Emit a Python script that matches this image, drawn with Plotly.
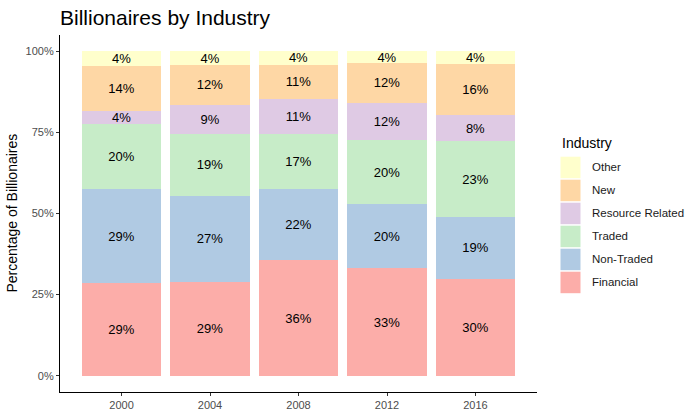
import plotly.graph_objects as go

years = [2000, 2004, 2008, 2012, 2016]
industries = ["Financial", "Non-Traded", "Traded", "Resource Related", "New", "Other"]
financial = [28.6, 28.9, 35.6, 33.1, 29.9]
non_traded = [28.8, 26.6, 21.9, 19.7, 19.1]
traded = [20.3, 19.1, 17.1, 19.7, 23.2]
resource_related = [3.8, 8.9, 10.7, 11.7, 8.2]
new = [14.1, 12.3, 10.6, 12.2, 15.8]
other = [4.4, 4.2, 4.1, 3.6, 3.8]
colors = ["#FCADA9", "#B0CAE3", "#C7ECC8", "#DFCAE4", "#FED7A5", "#FFFFCC"]
y_ticks = [0, 25, 50, 75, 100]
y_tick_labels = ["0%", "25%", "50%", "75%", "100%"]

series = [financial, non_traded, traded, resource_related, new, other]
FONT = "Liberation Sans, Arial, sans-serif"

W, H = 694, 420
L, R, T, B = 60, 157, 35, 28
pw, ph = W - L - R, H - T - B


def px(x):
    return (x - L) / pw


def py(y):
    return (H - B - y) / ph


fig = go.Figure()
for name, vals, col in zip(industries, series, colors):
    fig.add_trace(go.Bar(
        x=years, y=vals, name=name, width=3.6,
        marker=dict(color=col, line=dict(width=0)),
        text=[f"{round(v)}%" for v in vals],
        textposition="inside", insidetextanchor="middle", textangle=0,
        textfont=dict(family=FONT, size=13, color="black"),
        showlegend=False, hoverinfo="skip",
    ))

shapes = []
annotations = []
annotations.append(dict(text="Industry", x=px(560), y=py(143), xref="paper", yref="paper",
                        xanchor="left", yanchor="middle", showarrow=False,
                        font=dict(family=FONT, size=14, color="black")))
legend_order = list(reversed(list(zip(industries, colors))))
for i, (name, col) in enumerate(legend_order):
    top = 156.7 + 23 * i
    shapes.append(dict(type="rect", xref="paper", yref="paper",
                       x0=px(560.5), x1=px(580.5), y0=py(top + 21.5), y1=py(top),
                       fillcolor=col, line=dict(width=0)))
    annotations.append(dict(text=name, x=px(590), y=py(top + 10.75), xref="paper", yref="paper",
                            xanchor="left", yanchor="middle", showarrow=False,
                            font=dict(family=FONT, size=11.5, color="#1a1a1a")))

annotations.append(dict(text="Percentage of Billionaires", x=px(11.5), y=py(213), xref="paper", yref="paper",
                        xanchor="center", yanchor="middle", showarrow=False, textangle=-90,
                        font=dict(family=FONT, size=14, color="black")))

fig.update_layout(
    barmode="stack",
    width=W, height=H,
    margin=dict(l=L, r=R, t=T, b=B, autoexpand=False),
    paper_bgcolor="white", plot_bgcolor="white",
    title=dict(text="Billionaires by Industry", x=60 / W, xanchor="left", xref="container",
               y=1 - 18 / H, yanchor="middle", yref="container",
               font=dict(family=FONT, size=21, color="black")),
    uniformtext=dict(mode="show", minsize=13),
    shapes=shapes, annotations=annotations,
    showlegend=False,
    font=dict(family=FONT),
)
fig.update_xaxes(range=[1997.22, 2018.78], tickvals=years, ticktext=[str(y) for y in years],
                 showgrid=False, zeroline=False, showline=True, linecolor="black", linewidth=1.1,
                 ticks="outside", ticklen=3, tickcolor="#333333", tickwidth=1,
                 tickfont=dict(family=FONT, size=11, color="#4D4D4D"))
fig.update_yaxes(range=[-5, 105], tickvals=y_ticks, ticktext=y_tick_labels,
                 showgrid=False, zeroline=False, showline=True, linecolor="black", linewidth=1.1,
                 ticks="outside", ticklen=3, tickcolor="#333333", tickwidth=1,
                 tickfont=dict(family=FONT, size=11, color="#4D4D4D"))

fig.write_html("out.html", config={"displayModeBar": False},
               post_script="document.body.style.margin='0px';")
